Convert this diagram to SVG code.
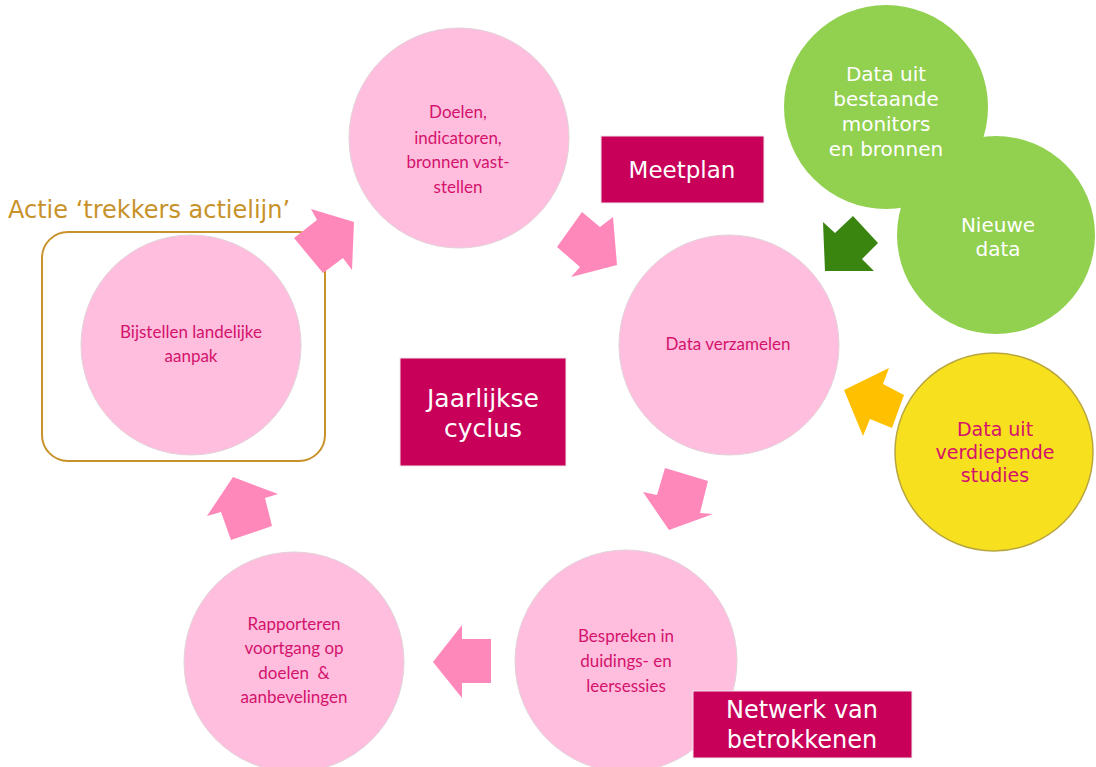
<svg xmlns="http://www.w3.org/2000/svg" width="1096" height="767" viewBox="0 0 1096 767">
<style>
.pc{fill:#FFBEDE;stroke:#E2D2DA;stroke-width:1}
.pt{font-family:Lato,"Liberation Sans",sans-serif;font-size:17px;fill:#D4126C;text-anchor:middle;white-space:pre}
.box{fill:#C8005A;stroke:#F3E6EC;stroke-width:1}
.bt{font-family:"DejaVu Sans",Verdana,sans-serif;fill:#FFFFFF;text-anchor:middle}
.gc{fill:#92D050}
.gt{font-family:"DejaVu Sans",Verdana,sans-serif;font-size:20px;fill:#FFFFFF;text-anchor:middle}
.pa{fill:#FF88BB}
</style>
<rect width="1096" height="767" fill="#FFFFFF"/>

<g id="green-new"><circle class="gc" cx="996" cy="235" r="99"/><text class="gt" x="998" y="232">Nieuwe</text><text class="gt" x="998" y="256">data</text></g>
<g id="green-existing"><circle class="gc" cx="886" cy="107" r="102"/><text class="gt" x="886" y="81">Data uit</text><text class="gt" x="886" y="106">bestaande</text><text class="gt" x="886" y="131">monitors</text><text class="gt" x="886" y="156">en bronnen</text></g>

<g id="yellow"><circle cx="994" cy="452" r="99" fill="#F7E01E" stroke="#B8A640" stroke-width="1.5"/><text font-family="DejaVu Sans,Verdana,sans-serif" font-size="19" fill="#D4126C" text-anchor="middle"><tspan x="995" y="436">Data uit</tspan><tspan x="995" y="459">verdiepende</tspan><tspan x="995" y="482">studies</tspan></text></g>

<g id="actie"><rect x="42" y="232" width="283" height="229" rx="26" fill="none" stroke="#C8922A" stroke-width="2"/><text x="8" y="218" font-family="DejaVu Sans,Verdana,sans-serif" font-size="24" fill="#C8922A">Actie ‘trekkers actielijn’</text></g>

<g id="doelen"><circle class="pc" cx="459" cy="138" r="110"/><text class="pt" x="458" y="118">Doelen,</text><text class="pt" x="458" y="144">indicatoren,</text><text class="pt" x="458" y="168">bronnen vast-</text><text class="pt" x="458" y="193">stellen</text></g>
<g id="verzamelen"><circle class="pc" cx="729" cy="345" r="110"/><text class="pt" x="728" y="350">Data verzamelen</text></g>
<g id="bespreken"><circle class="pc" cx="626" cy="661" r="111"/><text class="pt" x="626" y="642">Bespreken in</text><text class="pt" x="626" y="667">duidings- en</text><text class="pt" x="626" y="692">leersessies</text></g>
<g id="rapporteren"><circle class="pc" cx="294" cy="662" r="110"/><text class="pt" x="294" y="630">Rapporteren</text><text class="pt" x="294" y="654">voortgang op</text><text class="pt" x="294" y="679">doelen  &amp;</text><text class="pt" x="294" y="703">aanbevelingen</text></g>
<g id="bijstellen"><circle class="pc" cx="191" cy="345" r="110"/><text class="pt" x="191" y="338" font-size="16.5">Bijstellen landelijke</text><text class="pt" x="191" y="362" font-size="16.5">aanpak</text></g>

<g id="meetplan"><rect class="box" x="601" y="136" width="163" height="67"/><text class="bt" x="682" y="178" font-size="23">Meetplan</text></g>
<g id="jaarlijkse"><rect class="box" x="400" y="358" width="166" height="108"/><text class="bt" x="483" y="407" font-size="25">Jaarlijkse</text><text class="bt" x="483" y="437" font-size="25">cyclus</text></g>
<g id="netwerk"><rect class="box" x="693" y="691" width="219" height="67"/><text class="bt" x="802" y="718" font-size="24">Netwerk van</text><text class="bt" x="802" y="748" font-size="24">betrokkenen</text></g>

<g id="connectors">
<polygon class="pa" points="311,209 354,222 352,270 343,258 323,273 294,238 317,220"/>
<polygon class="pa" points="582,212 600,227 613,217 617,265 571,277 580,267 557,247"/>
<polygon fill="#3A8510" points="823,222 835,233 853,216 878,243 862,259 874,271 825,271"/>
<polygon fill="#FFC000" points="844,390 889,368 883,384 904,395 892,428 870,419 863,436"/>
<polygon class="pa" points="665,468 708,481 700,513 713,514 669,530 643,492 657,495"/>
<polygon class="pa" points="462,625 462,639 491,639 491,683 462,683 462,698 433,662"/>
<polygon class="pa" points="233,477 278,494 265,498 272,526 231,540 221,512 207,516"/>
</g>
</svg>
